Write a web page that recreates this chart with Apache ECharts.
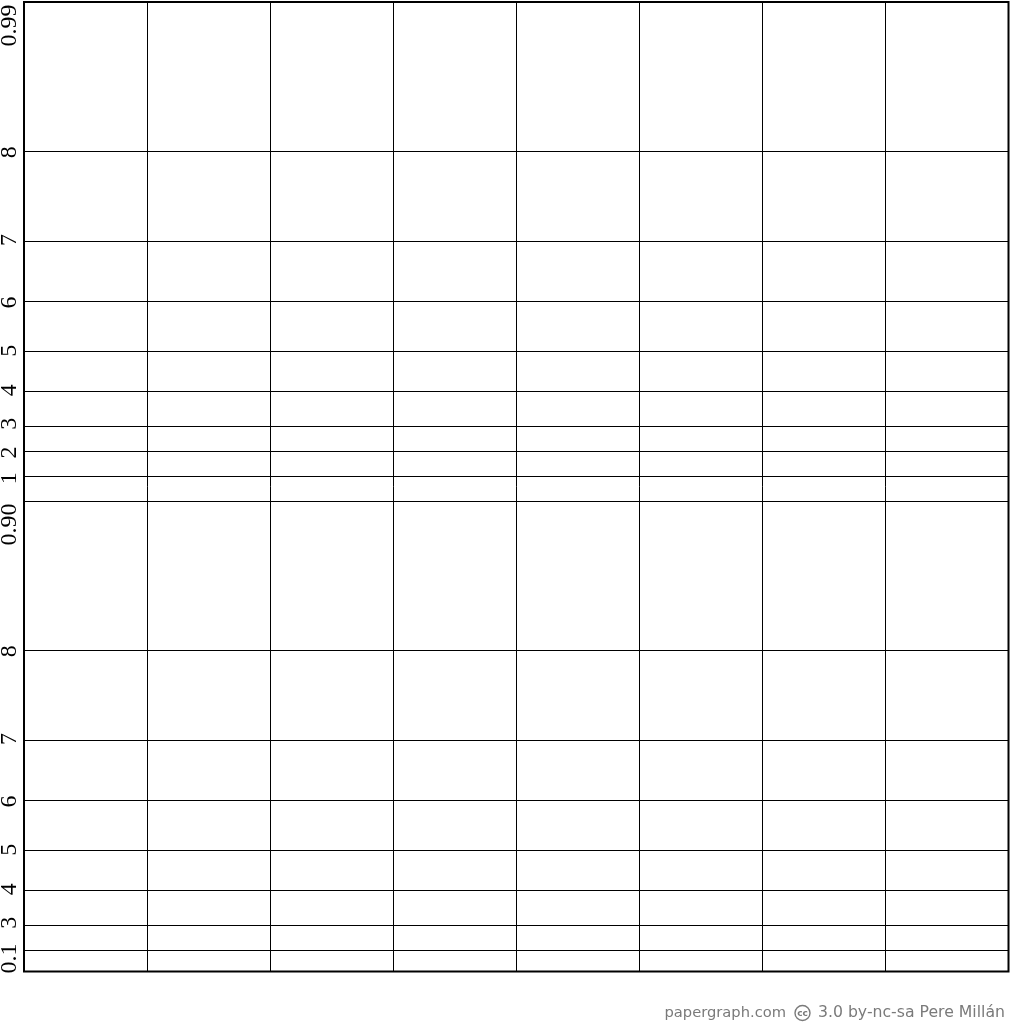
<!DOCTYPE html>
<html>
<head>
<meta charset="utf-8">
<style>html,body{margin:0;padding:0;background:#fff}#c{width:1012px;height:1024px}</style>
<script src="https://cdn.jsdelivr.net/npm/echarts@6/dist/echarts.min.js"></script>
</head>
<body>
<div id="c"></div>
<script>
// Probability values of the horizontal rulings (scale: -log10(1 - p))
var lineProbs = [0.2, 0.3, 0.4, 0.5, 0.6, 0.7, 0.8, 0.9,
                 0.91, 0.92, 0.93, 0.94, 0.95, 0.96, 0.97, 0.98, 0.99];
// Labelled probabilities and their texts
var labelProbs = [0.1, 0.3, 0.4, 0.5, 0.6, 0.7, 0.8, 0.9,
                  0.91, 0.92, 0.93, 0.94, 0.95, 0.96, 0.97, 0.98, 0.99];
var labelTexts = ['0.1', '3', '4', '5', '6', '7', '8', '0.90',
                  '1', '2', '3', '4', '5', '6', '7', '8', '0.99'];
// Horizontal divisions (columns)
var xMin = 0, xMax = 8, xStep = 1;
var pBottom = 0.123, pTop = 0.99;

function tr(p) { return -Math.log10(1 - p); }
var yMin = tr(pBottom), yMax = tr(pTop);

// labels below the bottom edge sit on the bottom edge
var labelVals = labelProbs.map(function (p) { return Math.max(tr(p), yMin); });
var labelMap = {};
labelVals.forEach(function (v, i) { labelMap[v.toFixed(6)] = i; });

var chart = echarts.init(document.getElementById('c'), null, {renderer: 'canvas'});
var font = 'Liberation Serif';
chart.setOption({
  animation: false,
  backgroundColor: '#fff',
  grid: {left: 24, right: 3.5, top: 2, bottom: 52.5, show: true,
         containLabel: false, outerBoundsMode: 'none',
         borderColor: '#000', borderWidth: 2, backgroundColor: 'transparent'},
  xAxis: {
    type: 'value', min: xMin, max: xMax, interval: xStep,
    axisLine: {show: false}, axisTick: {show: false}, axisLabel: {show: false},
    splitLine: {show: true, lineStyle: {color: '#000', width: 1}}
  },
  yAxis: {
    type: 'value', min: yMin, max: yMax,
    axisLine: {show: false}, axisTick: {show: false},
    splitLine: {show: false},
    axisLabel: {
      show: true, customValues: labelVals, rotate: 90, margin: 2,
      showMinLabel: true, showMaxLabel: true, hideOverlap: false,
      color: '#000', fontFamily: font, fontSize: 24,
      formatter: function (v) {
        var i = labelMap[v.toFixed(6)];
        if (i === undefined) return '';
        var t = labelTexts[i];
        if (t === '0.99' || t === '0.90') return '{e|' + t + '}';
        if (t === '0.1') return '{s|' + t + '}';
        return '{n|' + t + '}';
      },
      rich: {
        n: {fontFamily: font, fontSize: 24, color: '#000'},
        e: {fontFamily: font, fontSize: 24, color: '#000', padding: [0, 47, 0, 0]},
        s: {fontFamily: font, fontSize: 24, color: '#000', padding: [0, 0, 0, 26]}
      }
    }
  },
  series: [{
    type: 'line', data: [], silent: true,
    markLine: {
      silent: true, symbol: 'none', animation: false,
      label: {show: false},
      lineStyle: {color: '#000', width: 1, type: 'solid'},
      emphasis: {disabled: true},
      data: lineProbs.map(function (p) { return {yAxis: tr(p)}; })
    }
  }],
  graphic: [
    {type: 'text', x: 786, y: 1013,
     style: {text: 'papergraph.com', fill: '#7a7a7a', font: '14.7px "DejaVu Sans"', align: 'right', verticalAlign: 'middle'}},
    {type: 'circle', shape: {cx: 802.5, cy: 1013, r: 7.5},
     style: {fill: 'none', stroke: '#7a7a7a', lineWidth: 1.4}},
    {type: 'text', x: 802.5, y: 1013.5,
     style: {text: 'cc', fill: '#7a7a7a', font: 'bold 9px "DejaVu Sans"', align: 'center', verticalAlign: 'middle'}},
    {type: 'text', x: 1005, y: 1013,
     style: {text: '3.0 by-nc-sa Pere Millán', fill: '#7a7a7a', font: '15.7px "DejaVu Sans"', align: 'right', verticalAlign: 'middle'}}
  ]
});
</script>
</body>
</html>
